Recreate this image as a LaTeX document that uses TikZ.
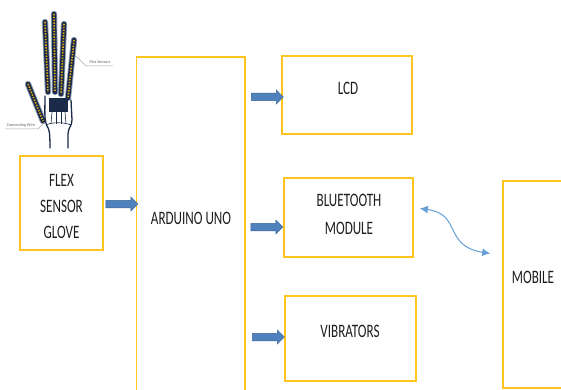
\documentclass[tikz,border=0pt]{standalone}
\usepackage{fontspec}
\setmainfont{Carlito}
\usetikzlibrary{shapes.arrows,arrows.meta}
\definecolor{boxyellow}{RGB}{255,196,30}
\definecolor{arrowblue}{RGB}{79,129,189}
\definecolor{arrowborder}{RGB}{60,100,150}
\definecolor{curveblue}{RGB}{100,160,215}
\definecolor{navy}{RGB}{26,42,72}
\definecolor{handgrey}{RGB}{150,165,185}
\definecolor{handyellow}{RGB}{232,172,20}
\definecolor{txt}{RGB}{30,30,30}
\newcommand{\boxtxt}[2][26]{\scalebox{0.69}[1]{\fontsize{19}{#1}\selectfont\begin{tabular}{@{}c@{}}#2\end{tabular}}}
\newcommand{\handfinger}[2]{%
  \draw[fingout] #1 -- #2;
  \draw[fingmid] #1 -- #2;
  \draw[fingdots] #1 -- #2;}
\tikzset{
  blockbox/.style={draw=boxyellow, line width=1.7pt, inner sep=0pt, fill=none},
  boxlabel/.style={text=txt, inner sep=0pt},
  barrow/.style={single arrow, draw=arrowborder, fill=arrowblue, line width=0.5pt,
    inner sep=3.5pt, single arrow head extend=3.3pt, minimum height=32pt},
  fingout/.style={draw=handgrey, line width=6.4pt, line cap=round},
  fingmid/.style={draw=navy, line width=4.6pt, line cap=round},
  fingdots/.style={draw=handyellow, line width=1.6pt, dash pattern=on 1.4pt off 1.4pt},
  handline/.style={draw=navy, line width=1.3pt, line cap=round},
  wire/.style={draw=navy, line width=0.6pt},
  leader/.style={draw=gray!70, line width=0.5pt},
  tiny/.style={text=gray!80!black, inner sep=0pt, font=\fontsize{4.2}{5}\selectfont},
  bidir/.style={draw=curveblue, line width=1pt, {Latex[length=8pt,width=8pt]}-{Latex[length=8pt,width=8pt]}}
}
\begin{document}
\begin{tikzpicture}[x=1pt,y=-1pt]
\clip (0,0) rectangle (561,390);
\fill[white] (0,0) rectangle (561,390);

% ---- hand illustration ----
\handfinger{(28,84)}{(43,121)}
\handfinger{(45,22)}{(48,92)}
\handfinger{(54,14)}{(55,92)}
\handfinger{(64,24)}{(61,94)}
\handfinger{(74,40)}{(68,98)}
\draw[handline] (45,96) .. controls (45,110) and (44,120) .. (47,126) .. controls (49,129) and (50,131) .. (50,148);
\draw[handline] (71,100) -- (72,120) .. controls (72,126) and (68,128) .. (68,134) -- (68,148);
\fill[navy] (49,98) rectangle (68,112);
\draw[wire] (52,112) -- (51,124);
\draw[wire] (56,112) -- (56,124);
\draw[wire] (61,112) -- (61,124);
\draw[wire] (65,112) -- (66,124);
\draw[wire] (46,125) .. controls (52,122) and (64,122) .. (71,125);
\node[tiny] (flexlbl) at (100,62) {Flex Sensors};
\draw[leader] (76,56) -- (86,66) -- (113,66);
\node[tiny] (wirelbl) at (21,125) {Connecting Wire};
\draw[leader] (5,129) -- (38,129) -- (45,122);

% ---- blocks ----
\node[blockbox, minimum width=83pt, minimum height=94pt] (glove) at (61.5,203) {};
\node[blockbox, minimum width=108.5pt, minimum height=363pt] (arduino) at (190.75,238.5) {};
\node[blockbox, minimum width=130pt, minimum height=78pt] (lcd) at (347,95) {};
\node[blockbox, minimum width=129pt, minimum height=79pt] (bt) at (348.5,217.5) {};
\node[blockbox, minimum width=131pt, minimum height=85pt] (vib) at (350.5,338.5) {};
\node[blockbox, minimum width=110pt, minimum height=207pt] (mobile) at (558,284.5) {};

\node[boxlabel] (glovetxt) at (61.5,207) {\boxtxt{FLEX\\SENSOR\\GLOVE}};
\node[boxlabel] (arduinotxt) at (191,219) {\boxtxt{ARDUINO UNO}};
\node[boxlabel] (lcdtxt) at (348,89) {\boxtxt{LCD}};
\node[boxlabel] (bttxt) at (349,215) {\boxtxt[28]{BLUETOOTH\\MODULE}};
\node[boxlabel] (vibtxt) at (350,332) {\boxtxt{VIBRATORS}};
\node[boxlabel] (mobiletxt) at (533,278) {\boxtxt{MOBILE}};

% ---- block arrows ----
\node[barrow] (a1) at (120,204) {};
\node[barrow] (a2) at (265.5,97) {};
\node[barrow] (a3) at (265,227) {};
\node[barrow] (a4) at (266.5,337) {};

% ---- wireless link ----
\draw[bidir] ([shift={(6,-9)}]bt.east) .. controls (462,214) and (443,246) .. ([shift={(-12,-31)}]mobile.west);
\end{tikzpicture}
\end{document}
